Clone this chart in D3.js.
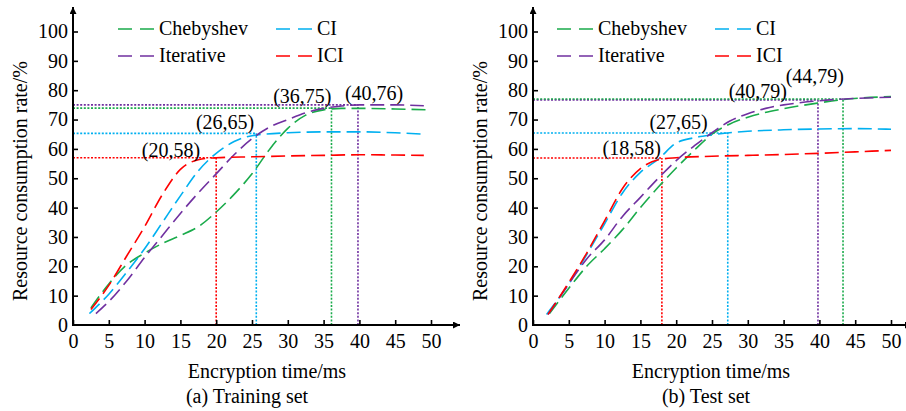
<!DOCTYPE html>
<html>
<head>
<meta charset="utf-8">
<script src="https://cdn.jsdelivr.net/npm/d3@7/dist/d3.min.js"></script>
<style>
body { margin: 0; background: #fff; }
svg text { font-family: "Liberation Serif", "Times New Roman", serif; fill: #000; }
</style>
</head>
<body>
<svg id="chart" width="906" height="411"></svg>
<script>
// axis ticks
var xTicks = [0, 5, 10, 15, 20, 25, 30, 35, 40, 45, 50];
var yTicks = [0, 10, 20, 30, 40, 50, 60, 70, 80, 90, 100];

var seriesNames = ['Chebyshev', 'CI', 'Iterative', 'ICI'];
var seriesColors = ['#1aab4b', '#00b0f0', '#7030a0', '#ff0000'];

// (a) training set, [time, rate]
var trainChebyshev = [[2.5,5.8],[5,14],[7.5,20.5],[10,24.5],[12.5,27.8],[15,30.5],[17.5,33.5],[20,38.5],[22.5,44.5],[25,51.5],[27.5,60],[30,67],[32.5,71.5],[35,73.3],[37.5,73.8],[40,73.8],[45,73.6],[49.5,73.3]];
var trainCI = [[2.3,3.9],[5,10.5],[7.5,18],[10,26],[12.5,35],[15,44],[17.5,52.5],[20,58.5],[22.5,62.5],[25,64.5],[30,65.5],[35,65.8],[40,65.8],[45,65.5],[49,65]];
var trainIterative = [[3.2,3.9],[5,8],[7.5,15],[10,23],[12.5,30.5],[15,38],[17.5,45],[20,51.5],[22.5,58],[25,63.5],[27.5,67.5],[30,70],[32.5,72.3],[35,73.8],[37.5,74.6],[40,75],[45,75],[49,74.7]];
var trainICI = [[2.5,5.3],[5,13.5],[7.5,23.5],[10,33.5],[12.5,44.5],[15,53],[17.5,56.3],[20,57],[25,57.3],[30,57.6],[35,57.8],[40,58],[45,57.9],[49,57.8]];

// (b) test set
var testChebyshev = [[2.3,3.9],[5,12.5],[7.5,20],[10,26],[12.5,32.5],[15,40],[17.5,47],[20,53.5],[22.5,59.5],[25,65],[27.5,68.5],[30,70.8],[35,73.7],[40,75.7],[43.3,76.8],[50,77.8]];
var testCI = [[1.9,3.6],[5,14],[7.5,24],[10,34.5],[12.5,45],[15,52],[17.5,56.5],[20,62],[22.5,63.8],[25,64.8],[30,66],[35,66.5],[40,66.8],[45,66.9],[50,66.7]];
var testIterative = [[2.1,3.6],[5,14],[7.5,22.5],[10,29],[12.5,37],[15,43.5],[17.5,50],[20,56],[22.5,61],[25,65.5],[27.5,69.5],[30,72],[32.5,73.8],[35,75],[37.5,75.8],[40,76.4],[45,77.2],[50,77.6]];
var testICI = [[2.1,3.6],[5,14.5],[7.5,24.5],[10,35.5],[12.5,46.5],[15,53.3],[17.5,56.3],[20,57],[25,57.5],[30,57.8],[35,58.1],[40,58.5],[45,59],[50,59.5]];

// marked points: series index, time, rate, label
var trainMarks = [[3, 20, 57, '(20,58)'], [1, 25.6, 65.3, '(26,65)'], [0, 36.1, 73.9, '(36,75)'], [2, 39.8, 75, '(40,76)']];
var testMarks = [[3, 18, 56.9, '(18,58)'], [1, 27.2, 65.4, '(27,65)'], [2, 39.8, 76.7, '(40,79)'], [0, 43.3, 77, '(44,79)']];

var xTitle = 'Encryption time/ms';
var yTitle = 'Resource consumption rate/%';

window.onload = function()
{
    main();
};

function main()
{
    var svg = d3.select('#chart');

    svg.append('defs').append('marker')
        .attr('id', 'arrow')
        .attr('viewBox', '0 0 10 10')
        .attr('refX', 10).attr('refY', 5)
        .attr('markerWidth', 7).attr('markerHeight', 7)
        .attr('markerUnits', 'userSpaceOnUse')
        .attr('orient', 'auto')
        .append('path')
        .attr('d', 'M0,0 L10,5 L0,10 Z')
        .attr('fill', '#000');

    _drawPanel(svg, {
        left: 73, right: 431, axisEnd: 460, yTitleX: 20,
        legend: [118, 276],
        caption: '(a) Training set',
        titleShift: [15, -5],
        series: [trainChebyshev, trainCI, trainIterative, trainICI],
        marks: trainMarks,
        // label offsets from the marked point: [anchor, dx, dy]
        labelPos: [['end', -16, -1], ['end', -2, -4], ['end', 0, -5], ['start', -13, -5]]
    });

    _drawPanel(svg, {
        left: 533, right: 891, axisEnd: 912, yTitleX: 480,
        legend: [557, 715],
        caption: '(b) Test set',
        titleShift: [-1, -6],
        series: [testChebyshev, testCI, testIterative, testICI],
        marks: testMarks,
        labelPos: [['end', -1, -3], ['end', -20, -4], ['end', -31, -2], ['end', 1, -16]]
    });
}

function _drawPanel(svg, p)
{
    var x = d3.scaleLinear().domain([0, 50]).range([p.left, p.right]),
        y = d3.scaleLinear().domain([0, 100]).range([325, 31.5]),
        g = svg.append('g'),
        line = d3.line()
            .x(function(d) { return x(d[0]); })
            .y(function(d) { return y(d[1]); })
            .curve(d3.curveMonotoneX);

    // dotted guide lines to the marked points
    p.marks.forEach(function(m)
    {
        var c = seriesColors[m[0]];
        g.append('path')
            .attr('d', 'M' + x(0) + ',' + y(m[2]) + 'H' + x(m[1]) + 'M' + x(m[1]) + ',' + y(0) + 'V' + y(m[2]))
            .attr('fill', 'none')
            .attr('stroke', c)
            .attr('stroke-width', 1.6)
            .attr('stroke-dasharray', '2,1.6');
    });

    // dashed curves
    p.series.forEach(function(s, i)
    {
        g.append('path')
            .datum(s)
            .attr('d', line)
            .attr('fill', 'none')
            .attr('stroke', seriesColors[i])
            .attr('stroke-width', 1.6)
            .attr('stroke-dasharray', '14,6');
    });

    // point labels
    p.marks.forEach(function(m, i)
    {
        var lp = p.labelPos[i];
        g.append('text')
            .attr('x', x(m[1]) + lp[1])
            .attr('y', y(m[2]) + lp[2])
            .attr('text-anchor', lp[0])
            .attr('font-size', 20)
            .text(m[3]);
    });

    // axes, ticks pointing inward
    var xAxis = g.append('g')
        .attr('transform', 'translate(0,' + y(0) + ')')
        .call(d3.axisBottom(x).tickValues(xTicks).tickSize(-5).tickPadding(9));
    var yAxis = g.append('g')
        .attr('transform', 'translate(' + x(0) + ',0)')
        .call(d3.axisLeft(y).tickValues(yTicks).tickSize(-5).tickPadding(5));

    [xAxis, yAxis].forEach(function(a)
    {
        a.select('.domain').remove();
        a.selectAll('line').attr('stroke', '#000').attr('stroke-width', 1.6);
        a.selectAll('text')
            .attr('font-size', 20)
            .attr('font-family', '"Liberation Serif", "Times New Roman", serif')
            .attr('fill', '#000');
    });
    yAxis.selectAll('.tick').filter(function(d) { return d === 0; }).select('line').remove();

    g.append('line')
        .attr('x1', x(0)).attr('y1', y(0))
        .attr('x2', p.axisEnd).attr('y2', y(0))
        .attr('stroke', '#000').attr('stroke-width', 2)
        .attr('marker-end', 'url(#arrow)');
    g.append('line')
        .attr('x1', x(0)).attr('y1', y(0) + 1)
        .attr('x2', x(0)).attr('y2', 7)
        .attr('stroke', '#000').attr('stroke-width', 2)
        .attr('marker-end', 'url(#arrow)');

    // legend, two columns
    seriesNames.forEach(function(name, i)
    {
        var lx = p.legend[i % 2],
            ly = i < 2 ? 29 : 56;
        g.append('line')
            .attr('x1', lx).attr('y1', ly)
            .attr('x2', lx + 36).attr('y2', ly)
            .attr('stroke', seriesColors[i])
            .attr('stroke-width', 1.6)
            .attr('stroke-dasharray', '14,8');
        g.append('text')
            .attr('x', lx + 41)
            .attr('y', ly + 6)
            .attr('font-size', 20)
            .text(name);
    });

    // titles
    var cx = (x(0) + x(50)) / 2;
    g.append('text')
        .attr('x', cx + p.titleShift[0]).attr('y', 378)
        .attr('text-anchor', 'middle')
        .attr('font-size', 20)
        .text(xTitle);
    g.append('text')
        .attr('x', cx + p.titleShift[1]).attr('y', 403)
        .attr('text-anchor', 'middle')
        .attr('font-size', 20)
        .text(p.caption);
    g.append('text')
        .attr('transform', 'translate(' + (p.yTitleX + 7) + ',181) rotate(-90)')
        .attr('text-anchor', 'middle')
        .attr('font-size', 20)
        .text(yTitle);
}
</script>
</body>
</html>
